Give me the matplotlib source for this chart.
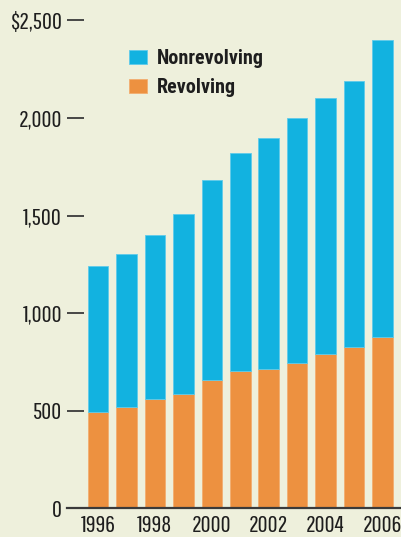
import matplotlib
matplotlib.use("Agg")
import matplotlib.pyplot as plt
from matplotlib import font_manager as fm
import numpy as np

years = [1996, 1997, 1998, 1999, 2000, 2001, 2002, 2003, 2004, 2005, 2006]
revolving = [495, 519, 560, 587, 657, 703, 715, 746, 789, 828, 877]
total = [1240, 1302, 1398, 1509, 1682, 1818, 1898, 2000, 2100, 2187, 2401]
nonrevolving = [t - r for t, r in zip(total, revolving)]
ytick_vals = [0, 500, 1000, 1500, 2000, 2500]
ytick_labels = ["0", "500", "1,000", "1,500", "2,000", "$2,500"]
xtick_years = [1996, 1998, 2000, 2002, 2004, 2006]

names = {f.name for f in fm.fontManager.ttflist}


def pick(cands):
    for c in cands:
        if c in names:
            return c
    return "DejaVu Sans"


tick_fam = pick(["Pathway Gothic One", "Roboto Condensed", "Archivo Narrow", "PT Sans Narrow"])
leg_fam = pick(["Roboto Condensed", "Archivo Narrow", "PT Sans Narrow"])
tick_size = 17.5 if tick_fam == "Pathway Gothic One" else 13.5
plt.rcParams["font.family"] = [tick_fam, "DejaVu Sans"]

BG = "#EEF0DC"
BLUE = "#12B2E0"
ORANGE = "#ED9140"
TXT = "#1E1E1E"

W, H = 401, 537
fig = plt.figure(figsize=(W / 100, H / 100), dpi=100, facecolor=BG)
left_px, right_px, base_px = 67, 401, 508.3
ax = fig.add_axes([left_px / W, (H - base_px) / H, (right_px - left_px) / W, base_px / H])
ax.set_facecolor(BG)

x = np.arange(len(years))
pitch = 28.45
xl = (left_px - 98) / pitch
xr = (right_px - 98) / pitch
ax.set_xlim(xl, xr)
ax.set_ylim(0, base_px / 0.1952)

bw = 20.5 / pitch
ax.bar(x, revolving, width=bw, color=ORANGE, edgecolor="#F2AE70", linewidth=0.6, label="Revolving", zorder=2)
ax.bar(x, nonrevolving, bottom=revolving, width=bw, color=BLUE, edgecolor="#5FCBEA", linewidth=0.6, label="Nonrevolving", zorder=2)

for s in ["top", "right", "left"]:
    ax.spines[s].set_visible(False)
ax.spines["bottom"].set_color("#3A3A3A")
ax.spines["bottom"].set_linewidth(1.6)

ax.set_yticks(ytick_vals)
ax.set_yticklabels(ytick_labels)
ax.tick_params(axis="y", direction="in", length=17 * 0.72, width=1.3, color="#3A3A3A",
               pad=5 * 0.72, labelsize=tick_size, labelcolor=TXT)
ax.set_xticks([years.index(y) for y in xtick_years])
ax.set_xticklabels([str(y) for y in xtick_years])
ax.tick_params(axis="x", length=0, pad=4.5, labelsize=tick_size, labelcolor=TXT)

h, l = ax.get_legend_handles_labels()
leg = ax.legend([h[1], h[0]], [l[1], l[0]], loc="upper left",
                bbox_to_anchor=((129 - left_px) / (right_px - left_px), 1 - 49 / base_px),
                frameon=False, handlelength=0.89, handleheight=0.70, handletextpad=0.5,
                labelspacing=0.52, borderpad=0, borderaxespad=0,
                prop={"family": [leg_fam, "DejaVu Sans"], "weight": "bold", "size": 14.5})
for t in leg.get_texts():
    t.set_color(TXT)

fig.savefig("out.png", dpi=100, facecolor=BG)
